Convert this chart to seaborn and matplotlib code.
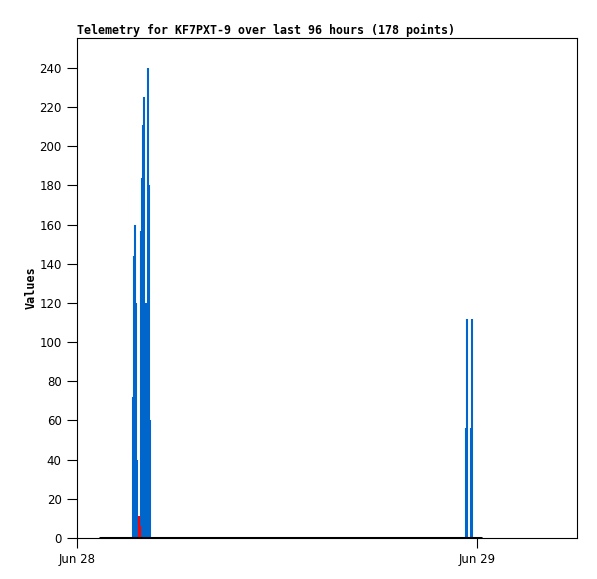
import matplotlib
matplotlib.use("Agg")
import matplotlib.pyplot as plt
import seaborn as sns


# =========================================================
# DATA (hours since Jun 28 00:00)
# =========================================================
blue_hours = [3.36, 3.42, 3.48, 3.54, 3.60, 3.84, 3.90, 3.96, 4.02, 4.08, 4.14,
              4.26, 4.32, 4.38, 23.31, 23.37, 23.61, 23.67]
blue_values = [72, 144, 160, 120, 40, 157, 184, 211, 225, 112, 120,
               240, 180, 60, 56, 112, 56, 112]

red_hours = [3.74, 3.80]
red_values = [11, 6]

zero_hours = [1.38, 24.24]
zero_values = [0, 0]

x_ticks = [0, 24]
x_labels = ["Jun 28", "Jun 29"]
y_ticks = list(range(0, 241, 20))

title = "Telemetry for KF7PXT-9 over last 96 hours (178 points)"


# =========================================================
# PLOT
# =========================================================
sns.set_style("white")
plt.rcParams["font.family"] = ["DejaVu Sans", "sans-serif"]
plt.rcParams["text.color"] = "black"
plt.rcParams["axes.labelcolor"] = "black"

fig = plt.figure(figsize=(5.97, 5.79), dpi=100)
ax = fig.add_axes([77 / 597, 1 - 538 / 579, 500 / 597, 500 / 579])

ax.vlines(blue_hours, 0, blue_values, color="#0066cc", linewidth=1.5)
ax.vlines(red_hours, 0, red_values, color="#ff0000", linewidth=1.5)
sns.lineplot(x=zero_hours, y=zero_values, color="black", linewidth=2.2, ax=ax)

ax.set_xlim(0, 30)
ax.set_ylim(0, 255.3)

ax.set_xticks(x_ticks)
ax.set_xticklabels(x_labels, fontsize=8.5)
ax.set_yticks(y_ticks)
ax.set_yticklabels([str(v) for v in y_ticks], fontsize=8.5)
ax.tick_params(axis="both", direction="out", length=7, width=0.8,
               colors="black", left=True, bottom=True, pad=4)

for side in ax.spines.values():
    side.set_color("black")
    side.set_linewidth(0.8)

ax.set_ylabel("Values", fontsize=8.5, fontweight="bold", color="black",
              family="DejaVu Sans Mono", labelpad=1)
ax.set_title(title, loc="left", fontsize=8.35, fontweight="bold", color="black",
             family="DejaVu Sans Mono", pad=3)

fig.savefig("out.png", dpi=100)
plt.close(fig)
